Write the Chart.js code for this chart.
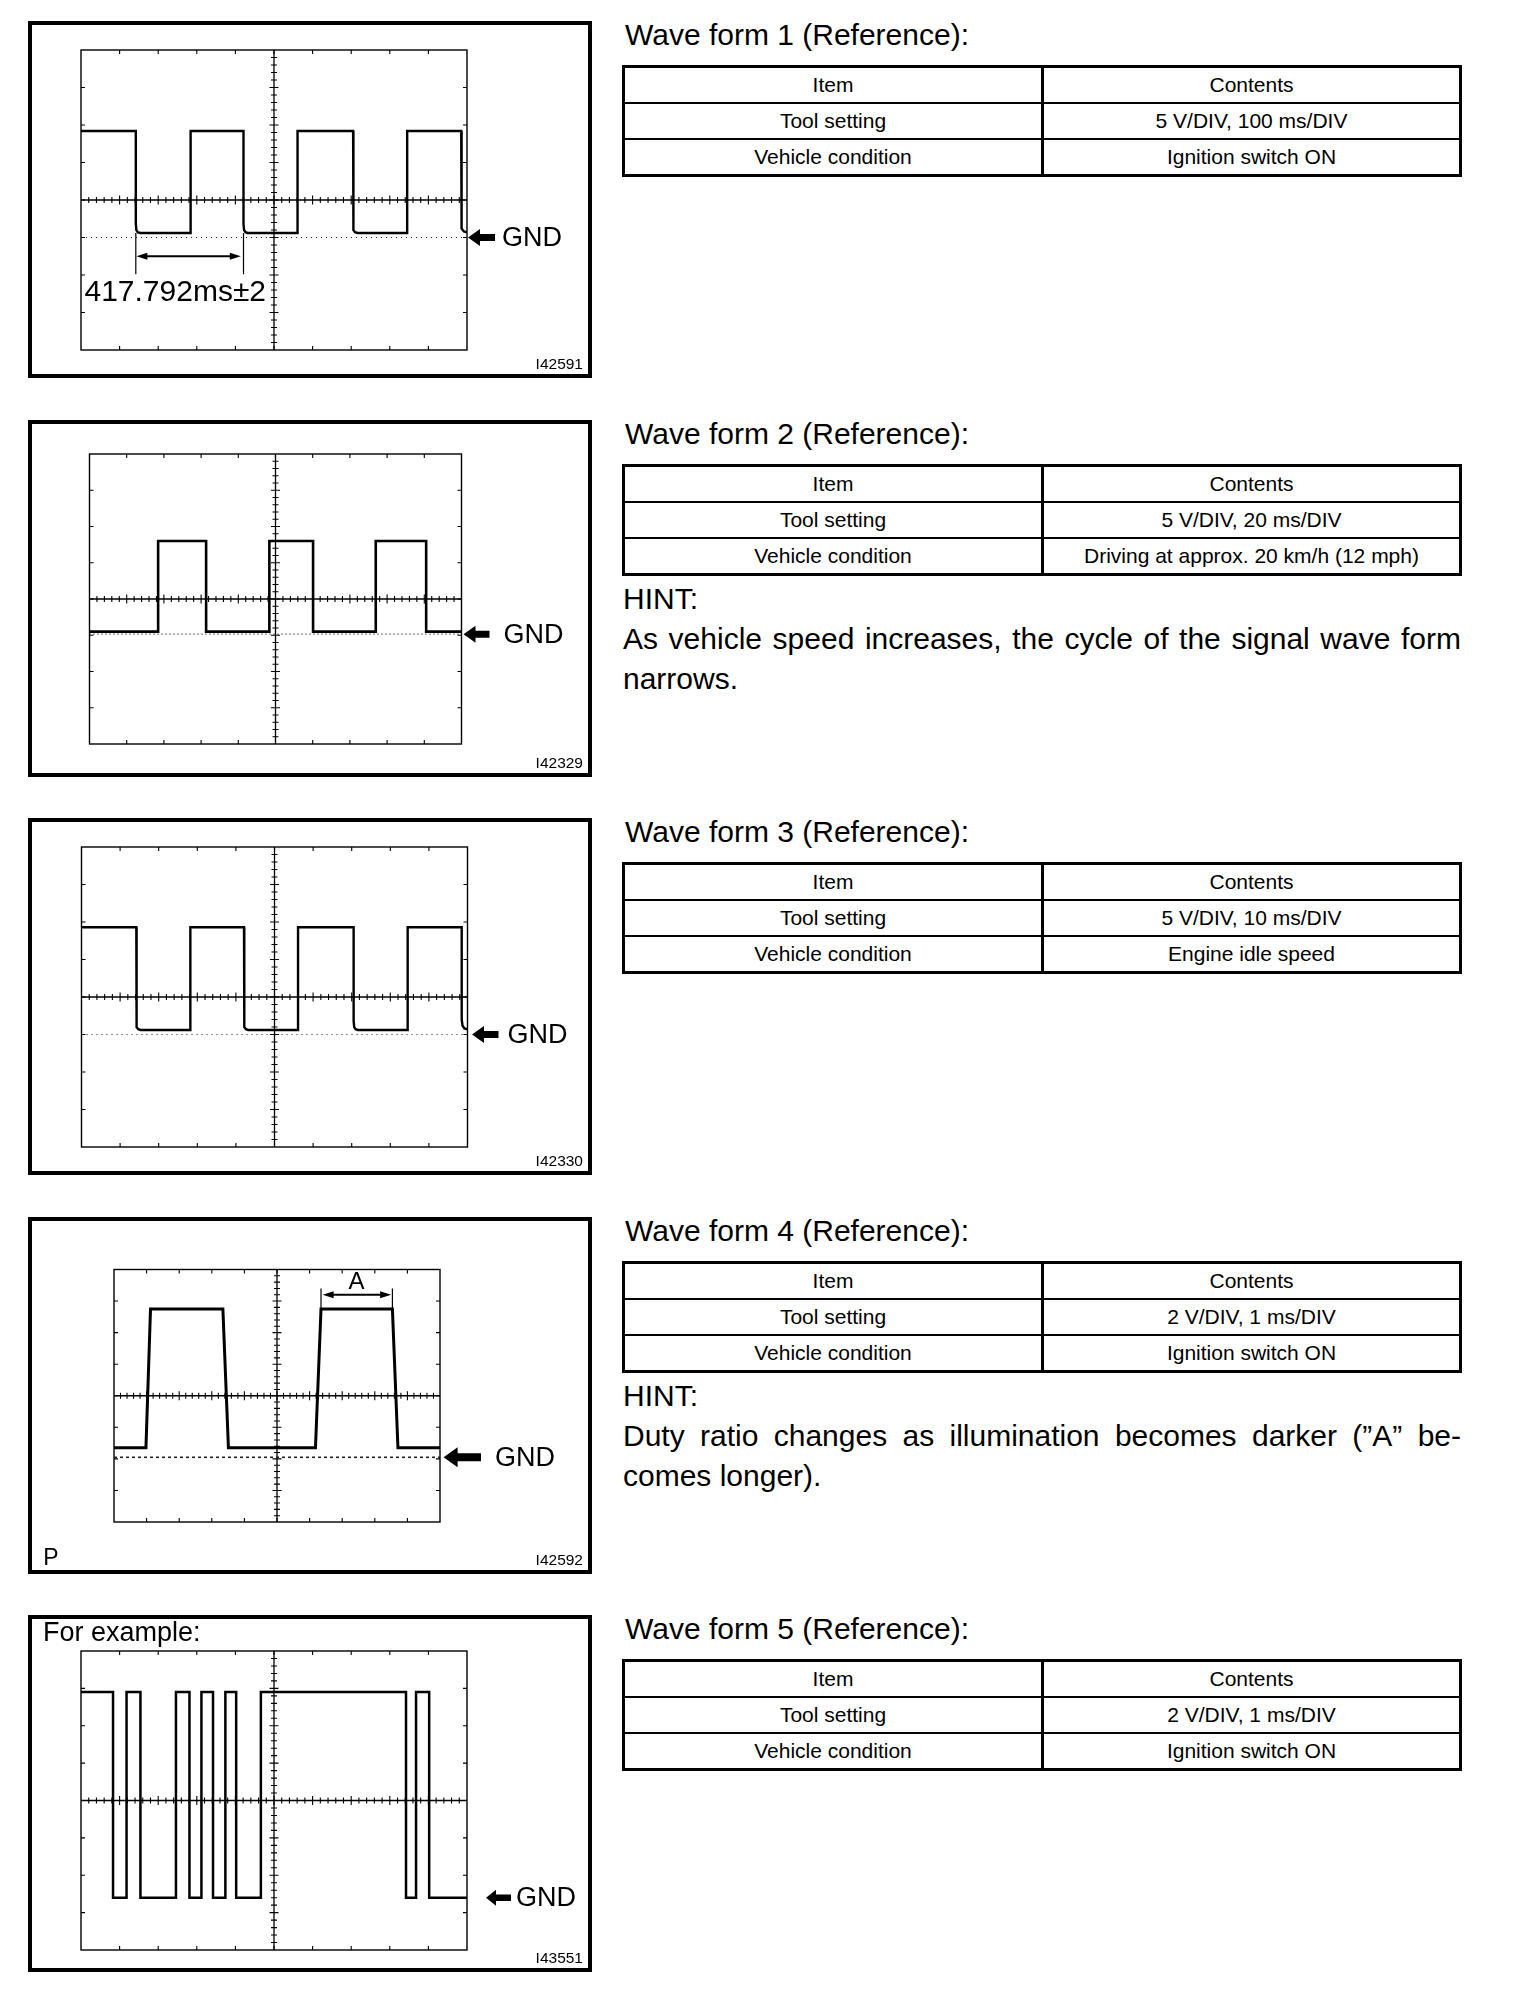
<!DOCTYPE html>
<html>
<head>
<meta charset="utf-8">
<script src="https://cdn.jsdelivr.net/npm/chart.js@4.4.1/dist/chart.umd.min.js"></script>
<style>
html,body{margin:0;padding:0;background:#fff}
body{width:1520px;height:2008px;position:relative;overflow:hidden;font-family:"Liberation Sans",Arial,sans-serif;color:#000}
.panel{position:absolute;left:28px;width:564px;height:357px}
.panel canvas{position:absolute;left:0;top:0}
.frame{position:absolute;left:0;top:0;width:564px;height:357px;border:4px solid #000;box-sizing:border-box}
.lbl{position:absolute;line-height:1;white-space:nowrap}
.head{position:absolute;left:625px;font-size:30px;line-height:30px;white-space:nowrap}
.spec{position:absolute;left:622px;width:840px;height:112px;border:3px solid #000;box-sizing:border-box}
.row{display:flex;height:34px}
.row+.row{border-top:2px solid #000}
.row div{font-size:21px;line-height:34px;text-align:center;white-space:nowrap}
.row div:first-child{width:416px}
.row div:last-child{flex:1;border-left:3px solid #000}
.hint{position:absolute;left:623px;width:838px;font-size:30px;line-height:40px}
.hint .j{text-align:justify;text-align-last:justify}
</style>
</head>
<body>
<script>
// scope settings, from the tables
const voltsPerDiv = [5, 5, 5, 2, 2];
const msPerDiv = [100, 20, 10, 1, 1];
const toolSettings = ['5 V/DIV, 100 ms/DIV', '5 V/DIV, 20 ms/DIV', '5 V/DIV, 10 ms/DIV', '2 V/DIV, 1 ms/DIV', '2 V/DIV, 1 ms/DIV'];
const vehicleConditions = ['Ignition switch ON', 'Driving at approx. 20 km/h (12 mph)', 'Engine idle speed', 'Ignition switch ON', 'Ignition switch ON'];
const figureIds = ['I42591', 'I42329', 'I42330', 'I42592', 'I43551'];

// wave form 1 (ms, V)
const wave1Ms = [0,142,142,143.5,147,153,284,284,421,421,422.5,426,432,561,561,705,705,706.5,710,716,845,845,985,985,987,992,1000];
const wave1V  = [9.2,9.2,-3.2,-4.0,-4.3,-4.4,-4.4,9.2,9.2,-3.2,-4.0,-4.3,-4.4,-4.4,9.2,9.2,-3.2,-4.0,-4.3,-4.4,-4.4,9.2,9.2,-3.0,-3.8,-4.2,-4.3];
// wave form 2
const wave2Ms = [0,36.9,36.9,62.7,62.7,96.7,96.7,120.2,120.2,153.9,153.9,181,181,200];
const wave2V  = [-4.5,-4.5,8,8,-4.5,-4.5,8,8,-4.5,-4.5,8,8,-4.5,-4.5];
// wave form 3
const wave3Ms = [0,14.2,14.2,14.35,14.7,15.3,28.2,28.2,42.1,42.1,42.25,42.6,43.2,56.1,56.1,70.5,70.5,70.65,71,71.6,84.5,84.5,98.5,98.5,98.7,99.2,100];
const wave3V  = [9.3,9.3,-3.2,-4.0,-4.3,-4.4,-4.4,9.3,9.3,-3.2,-4.0,-4.3,-4.4,-4.4,9.3,9.3,-3.2,-4.0,-4.3,-4.4,-4.4,9.3,9.3,-3.0,-3.8,-4.2,-4.3];
// wave form 4
const wave4Ms = [0,0.98,1.12,3.34,3.51,6.18,6.35,8.54,8.71,10];
const wave4V  = [-3.3,-3.3,5.5,5.5,-3.3,-3.3,5.5,5.5,-3.3,-3.3];
// wave form 5
const wave5Ms = [0,0.83,0.83,1.18,1.18,1.54,1.54,2.46,2.46,2.81,2.81,3.12,3.12,3.42,3.42,3.74,3.74,4.02,4.02,4.66,4.66,8.42,8.42,8.68,8.68,9.02,9.02,10];
const wave5V  = [5.8,5.8,-5.2,-5.2,5.8,5.8,-5.2,-5.2,5.8,5.8,-5.2,-5.2,5.8,5.8,-5.2,-5.2,5.8,5.8,-5.2,-5.2,5.8,5.8,-5.2,-5.2,5.8,5.8,-5.2,-5.2];

const gndLevels = [-5, -4.85, -5, -3.9, -5.2];

// page layout
const panelTops = [21, 420, 818, 1217, 1615];
const panels = [
  {ms:wave1Ms, v:wave1V, grid:[81,29,467,329], lw:2.4, dash:[1,4], arrow:[1,28,12,8.5,3.5], gndText:35},
  {ms:wave2Ms, v:wave2V, grid:[89.5,34,461.5,324], lw:2.6, dash:[1,3], arrow:[2,28,12,8.5,3.5], gndText:42},
  {ms:wave3Ms, v:wave3V, grid:[81.5,29,467.5,329], lw:2.4, dash:[1,4], arrow:[4.5,31,12,8.5,3.5], gndText:40},
  {ms:wave4Ms, v:wave4V, grid:[114,52.5,440,305], lw:3, dash:[3,3], arrow:[3.6,41,14,10,4], gndText:55},
  {ms:wave5Ms, v:wave5V, grid:[81,36,467,335], lw:2.5, dash:null, arrow:[19,44,10,8,3.2], gndText:49}
];

function line(ctx,x1,y1,x2,y2){ctx.moveTo(x1,y1);ctx.lineTo(x2,y2);}

function gndArrow(ctx,tip,tail,y,len,half,shaft){
  ctx.beginPath();
  ctx.moveTo(tip,y);ctx.lineTo(tip+len,y-half);ctx.lineTo(tip+len,y-shaft);ctx.lineTo(tail,y-shaft);
  ctx.lineTo(tail,y+shaft);ctx.lineTo(tip+len,y+shaft);ctx.lineTo(tip+len,y+half);ctx.closePath();
  ctx.fill();
}

function spanArrow(ctx,x1,x2,y){
  ctx.beginPath();ctx.lineWidth=2;line(ctx,x1+6,y,x2-6,y);ctx.stroke();
  ctx.beginPath();ctx.moveTo(x1,y);ctx.lineTo(x1+11,y-3.5);ctx.lineTo(x1+11,y+3.5);ctx.closePath();ctx.fill();
  ctx.beginPath();ctx.moveTo(x2,y);ctx.lineTo(x2-11,y-3.5);ctx.lineTo(x2-11,y+3.5);ctx.closePath();ctx.fill();
}

const scopePlugin = {
  id:'scope',
  beforeDatasetsDraw(chart){
    const {ctx,chartArea:a,scales:{x,y}}=chart;
    const xs=(x.max-x.min)/10, ys=(y.max-y.min)/8;
    const cx=x.getPixelForValue((x.min+x.max)/2), cy=y.getPixelForValue(0);
    ctx.save();
    ctx.strokeStyle='#000';ctx.fillStyle='#000';
    ctx.lineWidth=1.4;ctx.strokeRect(a.left,a.top,a.width,a.height);
    ctx.beginPath();ctx.lineWidth=1.3;
    line(ctx,a.left,cy,a.right,cy);line(ctx,cx,a.top,cx,a.bottom);
    ctx.stroke();
    ctx.beginPath();ctx.lineWidth=1.1;
    for(let i=1;i<50;i++){
      const px=x.getPixelForValue(x.min+i*xs/5), l=i%5===0?4.5:3;
      line(ctx,px,cy-l,px,cy+l);
    }
    for(let j=1;j<40;j++){
      const py=y.getPixelForValue(y.min+j*ys/5), l=j%5===0?4.5:3;
      line(ctx,cx-l,py,cx+l,py);
    }
    for(let i=1;i<10;i++){
      const px=x.getPixelForValue(x.min+i*xs);
      line(ctx,px,a.top,px,a.top+4);line(ctx,px,a.bottom-4,px,a.bottom);
    }
    for(let j=1;j<8;j++){
      const py=y.getPixelForValue(y.min+j*ys);
      line(ctx,a.left,py,a.left+4,py);line(ctx,a.right-4,py,a.right,py);
    }
    ctx.stroke();
    ctx.restore();
  },
  afterDatasetsDraw(chart,args,opts){
    const {ctx,chartArea:a,scales:{x,y}}=chart;
    const [tip,tail,len,half,shaft]=opts.arrow;
    ctx.save();ctx.fillStyle='#000';ctx.strokeStyle='#000';
    gndArrow(ctx,a.right+tip,a.right+tail,y.getPixelForValue(opts.gnd),len,half,shaft);
    if(opts.span){
      const s=opts.span;
      ctx.beginPath();ctx.lineWidth=1.2;
      s.ext.forEach(e=>line(ctx,x.getPixelForValue(e[0]),y.getPixelForValue(e[1]),x.getPixelForValue(e[0]),y.getPixelForValue(e[2])));
      ctx.stroke();
      spanArrow(ctx,x.getPixelForValue(s.from),x.getPixelForValue(s.to),y.getPixelForValue(s.at));
    }
    ctx.restore();
  }
};

const charts=[];
panels.forEach((p,i)=>{
  const top=panelTops[i];
  // right column: title, table, hint
  document.body.insertAdjacentHTML('beforeend',
    `<div class="head" style="top:${top-1}px">Wave form ${i+1} (Reference):</div>
     <div class="spec" style="top:${top+43.5}px">
       <div class="row"><div>Item</div><div>Contents</div></div>
       <div class="row"><div>Tool setting</div><div>${toolSettings[i]}</div></div>
       <div class="row"><div>Vehicle condition</div><div>${vehicleConditions[i]}</div></div>
     </div>`);
  const el=document.createElement('div');
  el.className='panel';el.style.top=top+'px';
  el.innerHTML='<canvas width="564" height="357"></canvas><div class="frame"></div>';
  document.body.appendChild(el);
  const xMax=10*msPerDiv[i], yHalf=4*voltsPerDiv[i];
  const ds=[{data:p.ms.map((t,k)=>({x:t,y:p.v[k]})),borderColor:'#000',borderWidth:p.lw,pointRadius:0,tension:0,borderJoinStyle:'miter',order:0}];
  if(p.dash) ds.push({data:[{x:0,y:gndLevels[i]},{x:xMax,y:gndLevels[i]}],borderColor:'#222',borderWidth:i===3?1.6:1.2,borderDash:p.dash,pointRadius:0,order:1});
  const g=p.grid;
  const opts={gnd:gndLevels[i],arrow:p.arrow};
  if(i===0) opts.span={from:143.5,to:414,at:-7.5,ext:[[142,-4.4,-9.9],[421,-4.4,-9.9]]};
  if(i===3) opts.span={from:6.4,to:8.5,at:6.4,ext:[[6.35,5.5,6.8],[8.54,5.5,6.8]]};
  const chart=new Chart(el.querySelector('canvas'),{
    type:'line',
    data:{datasets:ds},
    options:{responsive:false,animation:false,events:[],
      layout:{padding:{left:g[0]-28,top:g[1],right:592-g[2],bottom:357-g[3]}},
      scales:{x:{type:'linear',display:false,min:0,max:xMax},y:{type:'linear',display:false,min:-yHalf,max:yHalf}},
      plugins:{legend:{display:false},tooltip:{enabled:false},scope:opts}},
    plugins:[scopePlugin]
  });
  charts.push(chart);
  // labels placed from the scales
  const a=chart.chartArea, sx=chart.scales.x, sy=chart.scales.y;
  const add=(txt,left,top,size,extra)=>el.insertAdjacentHTML('beforeend',`<div class="lbl" style="left:${left}px;top:${top}px;font-size:${size}px;${extra||''}">${txt}</div>`);
  add('GND',a.right+p.gndText,sy.getPixelForValue(gndLevels[i])-13.5,27);
  add(figureIds[i],0,348-13.1,15.5,'left:auto;right:9px');
  if(i===0) add('417.792ms±2',sx.getPixelForValue(9),sy.getPixelForValue(-12.1)-15,30);
  if(i===3){
    add('A',sx.getPixelForValue(7.44),sy.getPixelForValue(7.28)-12,24,'transform:translateX(-50%)');
    add('P',15.3,348-19.5,23);
  }
  if(i===4) add('For example:',15,3.6,27);
});

// hints
document.body.insertAdjacentHTML('beforeend',
  `<div class="hint" style="top:${panelTops[1]+158.8}px"><div>HINT:</div><div class="j">As vehicle speed increases, the cycle of the signal wave form</div><div>narrows.</div></div>
   <div class="hint" style="top:${panelTops[3]+158.8}px"><div>HINT:</div><div class="j">Duty ratio changes as illumination becomes darker (”A” be-</div><div>comes longer).</div></div>`);
</script>
</body>
</html>
